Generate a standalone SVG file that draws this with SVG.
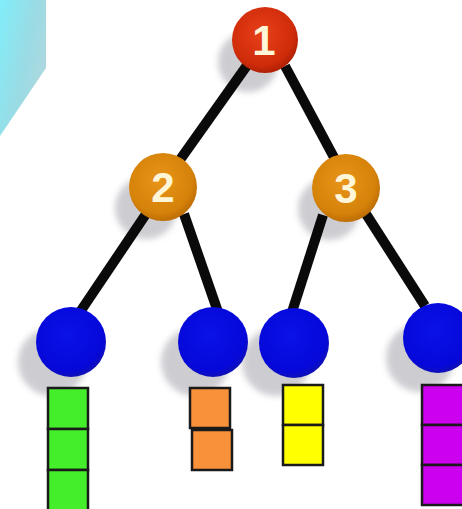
<svg xmlns="http://www.w3.org/2000/svg" width="462" height="509" viewBox="0 0 462 509">
<defs>
<linearGradient id="cy" x1="0" y1="0" x2="1" y2="0.6">
<stop offset="0" stop-color="#80eefa"/>
<stop offset="0.6" stop-color="#9adbe4"/>
<stop offset="1" stop-color="#b0d8de"/>
</linearGradient>
<radialGradient id="gRed" cx="0.45" cy="0.4" r="0.6">
<stop offset="0" stop-color="#e8401a"/>
<stop offset="0.8" stop-color="#cf2c0a"/>
<stop offset="1" stop-color="#b02005"/>
</radialGradient>
<radialGradient id="gOr" cx="0.45" cy="0.4" r="0.6">
<stop offset="0" stop-color="#e89418"/>
<stop offset="0.8" stop-color="#d5820a"/>
<stop offset="1" stop-color="#bd6e05"/>
</radialGradient>
<radialGradient id="gBl" cx="0.45" cy="0.4" r="0.6">
<stop offset="0" stop-color="#0a12e8"/>
<stop offset="0.85" stop-color="#0508d8"/>
<stop offset="1" stop-color="#1010b8"/>
</radialGradient>
<filter id="blur" x="-30%" y="-30%" width="160%" height="160%"><feGaussianBlur stdDeviation="3"/></filter>
</defs>
<style>
.edge{stroke:#0a0a0a;stroke-width:10;stroke-linecap:butt;fill:none}
.sh{fill:#c4c4ca;opacity:0.85;filter:url(#blur)}
.lbl{font-family:"Liberation Sans",Arial,sans-serif;font-weight:bold;font-size:42px;fill:#fff6d8;text-anchor:middle}
.box{stroke:#1a1a1a;stroke-width:2.5}
</style>
<rect width="462" height="509" fill="#ffffff"/>
<polygon points="0,0 46,0 46,68 0,136" fill="url(#cy)"/>

<g id="shadows">
<ellipse class="sh" cx="248" cy="62" rx="30" ry="30"/>
<ellipse class="sh" cx="146" cy="208" rx="31" ry="31"/>
<ellipse class="sh" cx="329" cy="209" rx="31" ry="31"/>
<ellipse class="sh" cx="52" cy="362" rx="34" ry="34"/>
<ellipse class="sh" cx="195" cy="362" rx="34" ry="34"/>
<ellipse class="sh" cx="276" cy="362" rx="34" ry="34"/>
<ellipse class="sh" cx="420" cy="358" rx="34" ry="34"/>
</g>

<g id="connectors">
<line class="edge" x1="248" y1="64" x2="177" y2="164"/>
<line class="edge" x1="285" y1="66" x2="337" y2="163"/>
<line class="edge" x1="146" y1="214" x2="80" y2="312"/>
<line class="edge" x1="184" y1="214" x2="218" y2="312"/>
<line class="edge" x1="323" y1="215" x2="292" y2="312"/>
<line class="edge" x1="366" y1="214" x2="425" y2="306"/>
</g>

<g id="node1">
<circle cx="265" cy="40" r="33" fill="url(#gRed)"/>
<text class="lbl" x="264" y="55">1</text>
</g>
<g id="node2">
<circle cx="163" cy="187" r="34" fill="url(#gOr)"/>
<text class="lbl" x="163" y="202">2</text>
</g>
<g id="node3">
<circle cx="346" cy="188" r="34" fill="url(#gOr)"/>
<text class="lbl" x="346" y="203">3</text>
</g>

<g id="leaf1">
<circle cx="71" cy="342" r="35" fill="url(#gBl)"/>
</g>
<g id="leaf2">
<circle cx="213" cy="342" r="35" fill="url(#gBl)"/>
</g>
<g id="leaf3">
<circle cx="294" cy="343" r="35" fill="url(#gBl)"/>
</g>
<g id="leaf4">
<circle cx="438" cy="338" r="35" fill="url(#gBl)"/>
</g>

<g id="bucket1">
<rect class="box" x="48" y="388" width="40" height="41" fill="#44ee2a"/>
<rect class="box" x="48" y="429" width="40" height="41" fill="#44ee2a"/>
<rect class="box" x="48" y="470" width="40" height="41" fill="#44ee2a"/>
</g>
<g id="bucket2">
<rect class="box" x="190" y="388" width="40" height="40" fill="#f7913a"/>
<rect class="box" x="192" y="430" width="40" height="40" fill="#f7913a"/>
</g>
<g id="bucket3">
<rect class="box" x="283" y="385" width="40" height="40" fill="#ffff00"/>
<rect class="box" x="283" y="425" width="40" height="40" fill="#ffff00"/>
</g>
<g id="bucket4">
<rect class="box" x="422" y="385" width="42" height="40" fill="#cc00ee"/>
<rect class="box" x="422" y="425" width="42" height="40" fill="#cc00ee"/>
<rect class="box" x="422" y="465" width="42" height="40" fill="#cc00ee"/>
</g>
</svg>
